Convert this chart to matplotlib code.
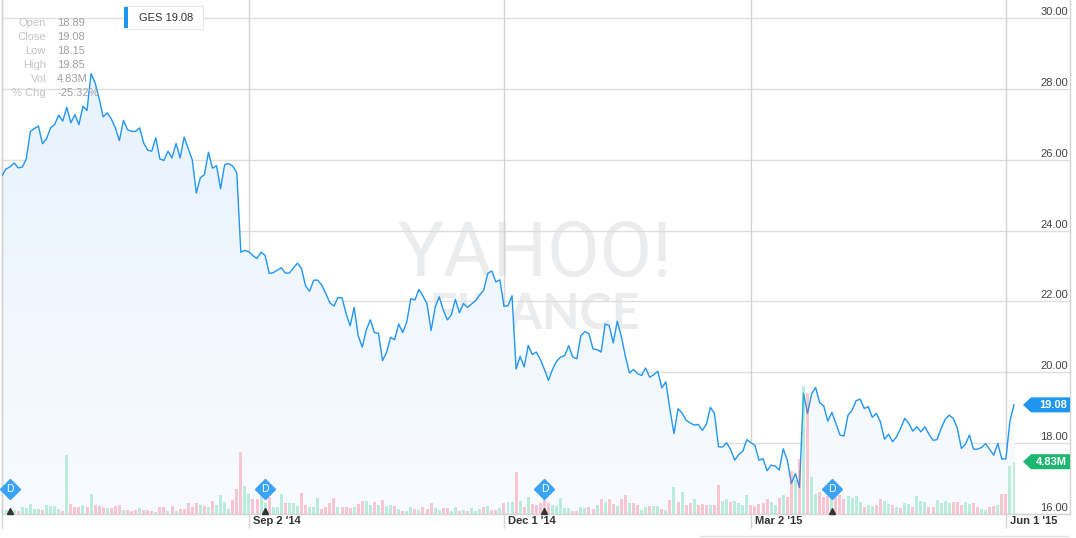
import numpy as np
import pandas as pd
import matplotlib
matplotlib.use("Agg")
import matplotlib.pyplot as plt
from matplotlib.patches import Polygon, Rectangle
from matplotlib.lines import Line2D
from matplotlib.transforms import offset_copy
from matplotlib.colors import LinearSegmentedColormap

plt.rcParams['font.family'] = ['Liberation Sans', 'DejaVu Sans']

# ---------------- data ----------------
ticker = "GES"
start_date, end_date = "2014-06-05", "2015-06-03"
holidays = ["2014-07-04", "2014-09-01", "2014-11-27", "2014-12-25", "2015-01-01",
            "2015-01-19", "2015-02-16", "2015-04-03", "2015-05-25"]

close = [
    25.55, 25.74, 25.80, 25.91, 25.77, 25.79, 26.02, 26.80, 26.88, 26.95,
    26.45, 26.59, 26.90, 26.99, 27.26, 27.09, 27.48, 27.04, 27.27, 26.99,
    27.51, 27.39, 28.43, 28.17, 27.72, 27.21, 27.32, 27.15, 26.90, 26.54,
    27.11, 26.85, 26.80, 26.80, 26.90, 26.47, 26.27, 26.24, 26.62, 26.02,
    25.98, 26.24, 26.05, 26.46, 26.05, 26.64, 26.31, 26.00, 25.06, 25.49,
    25.58, 26.21, 25.76, 25.83, 25.18, 25.86, 25.89, 25.82, 25.63, 23.39,
    23.44, 23.40, 23.29, 23.21, 23.39, 23.30, 22.79, 22.81, 22.88, 22.95,
    22.80, 22.80, 22.95, 23.08, 22.93, 22.43, 22.29, 22.60, 22.60, 22.46,
    22.22, 21.96, 21.87, 22.11, 22.10, 21.66, 21.31, 21.83, 21.03, 20.71,
    21.20, 21.48, 21.12, 21.10, 20.33, 20.56, 20.99, 20.92, 21.36, 21.12,
    21.43, 22.08, 22.04, 22.34, 22.15, 21.93, 21.18, 21.83, 22.13, 21.76,
    21.48, 21.62, 22.06, 21.68, 21.94, 21.83, 21.93, 22.02, 22.18, 22.32,
    22.79, 22.86, 22.55, 22.61, 21.86, 21.88, 22.16, 20.09, 20.45, 20.15,
    20.76, 20.50, 20.57, 20.36, 20.08, 19.77, 20.08, 20.31, 20.43, 20.47,
    20.75, 20.43, 20.38, 21.03, 21.15, 21.09, 20.66, 20.64, 20.57, 21.36,
    21.32, 20.83, 21.44, 21.01, 20.45, 19.98, 20.08, 19.96, 19.91, 20.12,
    19.86, 19.93, 20.03, 19.56, 19.73, 18.95, 18.27, 18.97, 18.85, 18.65,
    18.57, 18.51, 18.53, 18.36, 18.53, 19.01, 18.84, 17.90, 17.89, 18.01,
    17.82, 17.52, 17.68, 17.77, 18.10, 18.01, 17.94, 17.52, 17.56, 17.22,
    17.38, 17.35, 17.24, 17.84, 17.52, 16.86, 17.14, 16.75, 19.41, 18.84,
    19.39, 19.57, 19.14, 19.05, 18.62, 18.87, 18.56, 18.23, 18.20, 18.79,
    18.93, 19.20, 19.24, 18.98, 19.03, 18.73, 18.84, 18.60, 18.11, 18.25,
    18.04, 18.18, 18.42, 18.70, 18.56, 18.34, 18.46, 18.32, 18.46, 18.25,
    18.08, 18.10, 18.42, 18.67, 18.79, 18.70, 18.42, 17.85, 17.97, 18.23,
    17.83, 17.83, 17.88, 17.99, 17.82, 17.66, 17.99, 17.55, 17.56, 18.63, 19.08,
]

volume_m = [
    0.40, 0.40, 0.40, 0.37, 0.31, 0.62, 0.53, 0.96, 0.49, 0.49,
    0.37, 0.86, 0.77, 0.72, 0.49, 0.31, 5.42, 0.93, 0.68, 0.68,
    0.86, 0.68, 1.83, 0.81, 0.72, 0.62, 0.56, 0.56, 0.74, 0.81,
    0.40, 0.40, 0.31, 0.34, 0.56, 0.40, 0.40, 0.31, 0.21, 0.68,
    0.62, 0.25, 0.72, 0.31, 0.49, 0.49, 1.00, 0.68, 1.00, 0.86,
    0.74, 0.62, 1.24, 0.81, 1.79, 1.09, 0.49, 1.27, 2.30, 5.70,
    2.58, 1.89, 1.40, 1.37, 1.74, 1.02, 1.58, 0.68, 0.65, 1.89,
    1.02, 1.02, 1.02, 0.74, 1.93, 0.81, 0.62, 0.68, 1.49, 0.49,
    0.68, 1.02, 1.49, 0.68, 0.62, 0.62, 0.56, 0.68, 0.93, 1.18,
    1.18, 0.87, 1.12, 0.81, 1.33, 0.78, 0.87, 0.74, 0.43, 0.31,
    0.25, 0.68, 0.50, 0.40, 0.68, 0.43, 1.02, 0.56, 0.40, 0.56,
    0.56, 0.25, 0.65, 0.25, 0.40, 0.31, 0.56, 0.31, 0.50, 0.68,
    0.74, 0.40, 0.40, 0.56, 1.05, 1.15, 1.15, 3.88, 1.24, 0.68,
    1.61, 0.96, 0.81, 1.02, 1.49, 1.05, 0.87, 0.78, 1.49, 0.53,
    0.53, 0.31, 0.31, 0.68, 0.56, 0.62, 0.50, 0.87, 1.36, 1.12,
    1.40, 0.96, 0.78, 1.43, 1.71, 1.05, 1.02, 0.84, 0.40, 0.68,
    0.78, 0.71, 0.74, 0.50, 0.40, 1.30, 2.48, 1.14, 2.02, 0.84,
    1.00, 1.37, 0.84, 0.93, 0.86, 0.81, 0.84, 2.70, 1.24, 1.37,
    1.14, 1.24, 1.05, 0.86, 1.77, 0.84, 0.77, 0.93, 1.05, 1.37,
    1.14, 0.84, 1.46, 1.77, 1.61, 3.93, 3.16, 5.09, 11.78, 11.16,
    3.38, 1.86, 2.07, 1.55, 1.67, 1.46, 1.61, 1.77, 1.42, 1.67,
    1.46, 1.67, 1.14, 0.68, 0.84, 0.77, 0.84, 1.37, 1.24, 0.93,
    0.84, 0.62, 0.59, 1.00, 0.90, 0.62, 1.67, 1.24, 1.12, 0.68,
    0.62, 1.30, 1.05, 1.24, 1.00, 1.12, 1.12, 0.84, 1.12, 0.93,
    1.00, 0.68, 0.44, 0.37, 0.62, 0.74, 0.84, 1.83, 1.83, 4.46, 4.83,
]

# g = up day (green volume bar), r = down day (red volume bar)
volume_dir = ("ggggrggggg" "rggggrgrrr" "grgrrrgrrr" "grrrgrrrgr" "rgrgrrrrrg"
              "rgrggggrrr" "ggrrggrggg" "rgggrrgggr" "rrrg"
              "rrrgrr" "ggrgrggrgr" "ggrgrrrggr" "rggrgrgggr" "grrgrggrgr"
              "grrrrrgggg" "grrggrrgrg" "rrgrrgrrgg" "rggrg"
              "rgrgr" "rgrrrgrrgg" "rggggrrrrr" "ggrgrrgrgr" "ggrrrgrrrg"
              "gggrggrrgg" "rgrggrgggr" "rggggrrrgg" "rrggrrgrrgg")

dividend_dates = ["2014-06-09", "2014-09-08", "2014-12-15", "2015-03-30"]

price_ticks = [16, 18, 20, 22, 24, 26, 28, 30]
date_ticks = ["2014-09-02", "2014-12-01", "2015-03-02", "2015-06-01"]
date_labels = ["Sep 2 '14", "Dec 1 '14", "Mar 2 '15", "Jun 1 '15"]

info_labels = ["Open", "Close", "Low", "High", "Vol", "% Chg"]
info_values = ["18.89", "19.08", "18.15", "19.85", "4.83M", "-25.32%"]
last_volume_label = "4.83M"

assert len(close) == len(volume_m) == len(volume_dir)

dates = pd.bdate_range(start_date, end_date, freq="C", holidays=holidays)
idx = np.arange(len(close))
tick_pos = [int(dates.searchsorted(pd.Timestamp(d))) for d in date_ticks]
div_pos = [int(dates.searchsorted(pd.Timestamp(d))) for d in dividend_dates]

# ---------------- layout ----------------
W, H = 1076, 538
fig = plt.figure(figsize=(W / 100, H / 100), dpi=100)
fig.patch.set_facecolor("white")
ax_l, ax_r, ax_t, ax_b = 2, 1070, 0, 514
ax = fig.add_axes([ax_l / W, 1 - ax_b / H, (ax_r - ax_l) / W, (ax_b - ax_t) / H])
px_per_day = 4.048
x_max = (ax_r - ax_l) / px_per_day
px_per_unit = 35.43
y_min = 16
y_max = y_min + (ax_b - ax_t) / px_per_unit

BLUE = "#2196f3"
GRID = "#dedede"

# watermark
ax.text(0.499, 0.502, "YAHOO!", transform=ax.transAxes, ha="center", va="center",
        fontsize=55, color="#ebecee", family=["Roboto", "DejaVu Sans"], fontweight="normal", zorder=0.5)
ax.text(0.499, 0.389, "FINANCE", transform=ax.transAxes, ha="center", va="center",
        fontsize=35, color="#ebecee", family=["Lato", "DejaVu Sans"], fontweight="bold", zorder=0.5)

# gradient area under line
fill = ax.fill_between(idx, close, y_min, facecolor="none", edgecolor="none")
grad = np.linspace(0, 1, 256).reshape(-1, 1)
cmap = LinearSegmentedColormap.from_list("g", ["#f8fbff", "#e5f1fd"])
im = ax.imshow(grad, extent=[idx[0], idx[-1], y_min, y_max], origin="lower",
               aspect="auto", cmap=cmap, zorder=1, interpolation="bilinear")
im.set_clip_path(fill.get_paths()[0], transform=ax.transData)

ax.plot(idx, close, color=BLUE, lw=1.0, zorder=3, solid_joinstyle="round")

for v in price_ticks:
    ax.axhline(v, color=GRID, lw=1.0, zorder=0.8)
for p in tick_pos:
    ax.axvline(p, color="#d4d4d4", lw=1.0, zorder=0.8)

ax.set_xlim(0, x_max)
ax.set_ylim(y_min, y_max)
ax.set_xticks(tick_pos)
ax.set_xticklabels([])
ax.tick_params(axis="x", length=10, width=1.0, color="#d4d4d4", direction="out")
ax.set_yticks([])
ax.spines["top"].set_visible(False)
for s in ["left", "right", "bottom"]:
    ax.spines[s].set_color("#d4d4d4")
    ax.spines[s].set_linewidth(1.0)
ax.add_line(Line2D([0, 0], [-14 / 514, 1], transform=ax.transAxes, color="#d4d4d4",
                   lw=1.0, clip_on=False))

tr_y = offset_copy(ax.get_yaxis_transform(), fig=fig, x=-2, y=1, units="dots")
for v in price_ticks:
    ax.text(1.0, v, f"{v:.2f}", transform=tr_y, ha="right", va="bottom",
            fontsize=8, color="#444444")
tr_x = offset_copy(ax.get_xaxis_transform(), fig=fig, x=4, y=-7, units="dots")
for p, lab in zip(tick_pos, date_labels):
    ax.text(p, 0, lab, transform=tr_x, ha="left", va="center", fontsize=8,
            fontweight="bold", color="#333333")

# volume axis
ax2 = ax.twinx()
ax2.set_position(ax.get_position())
ax2.patch.set_visible(False)
vol_per_px = 4.83 / 52.3
ax2.set_ylim(0, (ax_b - ax_t) * vol_per_px)
ax2.set_xlim(0, x_max)
cols = ["#2ecc8a" if d == "g" else "#ff4d6a" for d in volume_dir]
ax2.bar(idx, volume_m, width=0.74, color=cols, alpha=0.3, linewidth=0, zorder=2)
ax2.set_yticks([])
for s in ax2.spines.values():
    s.set_visible(False)

# dividend markers
div_y = 25 / 514
ax2.plot(div_pos, [div_y] * len(div_pos), linestyle="none", marker="D", ms=9.8,
         color="#3ba3f5", transform=ax2.get_xaxis_transform(), zorder=6, clip_on=False)
for p in div_pos:
    ax2.text(p, div_y, "D", transform=ax2.get_xaxis_transform(), ha="center",
             va="center", fontsize=7.5, color="white", zorder=7)
ax2.plot(div_pos, [3 / 514] * len(div_pos), linestyle="none", marker="^", ms=4.5,
         color="#333333", transform=ax2.get_xaxis_transform(), zorder=6, clip_on=False)

# value tags on the right
fig.canvas.draw()


def tag(axis, yval, text, color):
    yd = axis.transData.transform((0, yval))[1]
    x_tip = ax.transAxes.transform((0.0, 0))[0] + (1023 - ax_l)
    x_body = x_tip + 8
    x_right = ax.transAxes.transform((1.0, 0))[0]
    hh = 7.5
    poly = Polygon([(x_tip, yd), (x_body, yd + hh), (x_right, yd + hh),
                    (x_right, yd - hh), (x_body, yd - hh)], closed=True,
                   facecolor=color, edgecolor="none", transform=None, zorder=10)
    fig.patches.append(poly)
    fig.text((x_right - 3) / W, yd / H, text, ha="right", va="center", fontsize=8,
             fontweight="bold", color="white", zorder=11)


tag(ax, close[-1], f"{close[-1]:.2f}", "#1e96f0")
tag(ax2, volume_m[-1], last_volume_label, "#1cb870")


def fx(x):
    return x / W


def fy(y):
    return 1 - y / H


# legend box
fig.patches.append(Rectangle((fx(124), fy(29)), fx(203) - fx(124), fy(6) - fy(29),
                             transform=fig.transFigure, facecolor="white",
                             edgecolor="#e8e8e8", lw=0.8, zorder=10))
fig.patches.append(Rectangle((fx(124), fy(28)), fx(128) - fx(124), fy(7) - fy(28),
                             transform=fig.transFigure, facecolor="#1e96f0",
                             edgecolor="none", zorder=11))
fig.text(fx(139), fy(18), f"{ticker} {close[-1]:.2f}", ha="left", va="center",
         fontsize=8, color="#333333", zorder=12)

# info panel
info_y = [23, 37, 51, 65, 79, 93]
for lab, val, yy in zip(info_labels, info_values, info_y):
    fig.text(fx(46), fy(yy), lab, ha="right", va="center", fontsize=8, color="#c4c4c4", zorder=12)
    fig.text(fx(57), fy(yy), val, ha="left", va="center", fontsize=8, color="#a0a0a0", zorder=12)

# bottom navigator edge
fig.add_artist(Line2D([fx(700), fx(1068)], [fy(536), fy(536)], color="#e2e2e2", lw=1.0,
                      transform=fig.transFigure))

fig.savefig("out.png", dpi=100, facecolor="white")
